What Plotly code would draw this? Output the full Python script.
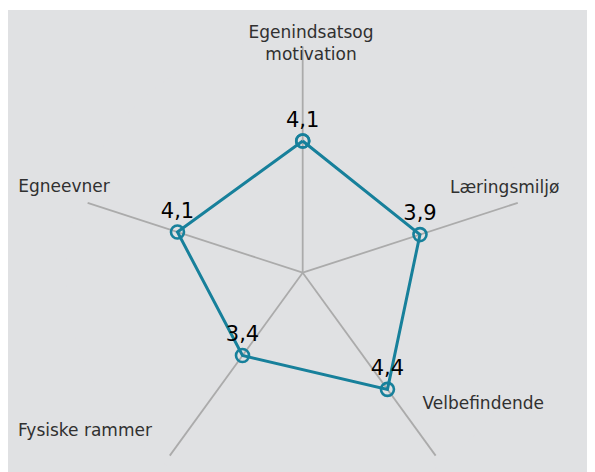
import plotly.graph_objects as go

categories = ["Egenindsatsog<br>motivation", "Læringsmiljø", "Velbefindende", "Fysiske rammer", "Egneevner"]
values = [4.1, 3.9, 4.4, 3.4, 4.1]
value_labels = [f"{v:.1f}".replace(".", ",") for v in values]

BG = "rgb(224,225,227)"
TEAL = "#17809B"
GRID = "#ABABAB"
TXT = "#303030"

W, H = 595, 505
cx, cy = 294.7, 264.7      # polar centre, pixels from the figure's top-left
R_MIN = 0.95               # radial value at the centre
PX_PER_UNIT = 41.8
R_MAX = 6.6                # outer edge of the (invisible) polar area
R_PX = (R_MAX - R_MIN) * PX_PER_UNIT
SPOKE_R = 6.36             # spoke length in axis units

n = len(categories)
theta = [i * 360 / n for i in range(n)]

# category-label placement (style): polar position + text anchor
label_r = [6.40, 6.18, 6.30, 6.20, 5.99]
label_theta = [2.1, 67.5, 126.2, 223.4, 293.7]
label_pos = ["middle center", "middle center", "middle center", "middle left", "middle left"]

spoke_r, spoke_t = [], []
for t in theta:
    spoke_r += [R_MIN, SPOKE_R, None]
    spoke_t += [t, t, None]

fig = go.Figure()
fig.add_trace(go.Scatterpolar(
    r=spoke_r, theta=spoke_t, mode="lines",
    line=dict(color=GRID, width=1.8),
    hoverinfo="skip", showlegend=False, connectgaps=False,
))
fig.add_trace(go.Scatterpolar(
    r=values + values[:1],
    theta=theta + theta[:1],
    mode="lines+markers+text",
    text=value_labels + [""],
    textposition="top center",
    textfont=dict(family="DejaVu Sans", size=21, color="black"),
    line=dict(color=TEAL, width=3),
    marker=dict(symbol="circle-open", size=13, color=TEAL, line=dict(width=2.6)),
    cliponaxis=False,
    hoverinfo="skip",
    showlegend=False,
))
fig.add_trace(go.Scatterpolar(
    r=label_r,
    theta=label_theta,
    mode="text",
    text=categories,
    textposition=label_pos,
    textfont=dict(family="DejaVu Sans", size=17, color=TXT),
    cliponaxis=False,
    hoverinfo="skip",
    showlegend=False,
))

fig.update_layout(
    width=W, height=H,
    margin=dict(l=0, r=0, t=0, b=0),
    paper_bgcolor="white",
    font=dict(family="DejaVu Sans", size=17, color=TXT),
    shapes=[dict(type="rect", xref="paper", yref="paper",
                 x0=0, x1=1, y0=0, y1=1 - 2 / H,
                 fillcolor=BG, line=dict(width=0), layer="below")],
    polar=dict(
        domain=dict(x=[(cx - R_PX) / W, (cx + R_PX) / W],
                    y=[(H - cy - R_PX) / H, (H - cy + R_PX) / H]),
        bgcolor=BG,
        angularaxis=dict(
            type="linear", rotation=90, direction="clockwise",
            thetaunit="degrees",
            showline=False, ticks="", showticklabels=False, showgrid=False,
        ),
        radialaxis=dict(
            range=[R_MIN, R_MAX],
            showgrid=False, showline=False, showticklabels=False, ticks="",
        ),
    ),
)

fig.write_html("out.html")
